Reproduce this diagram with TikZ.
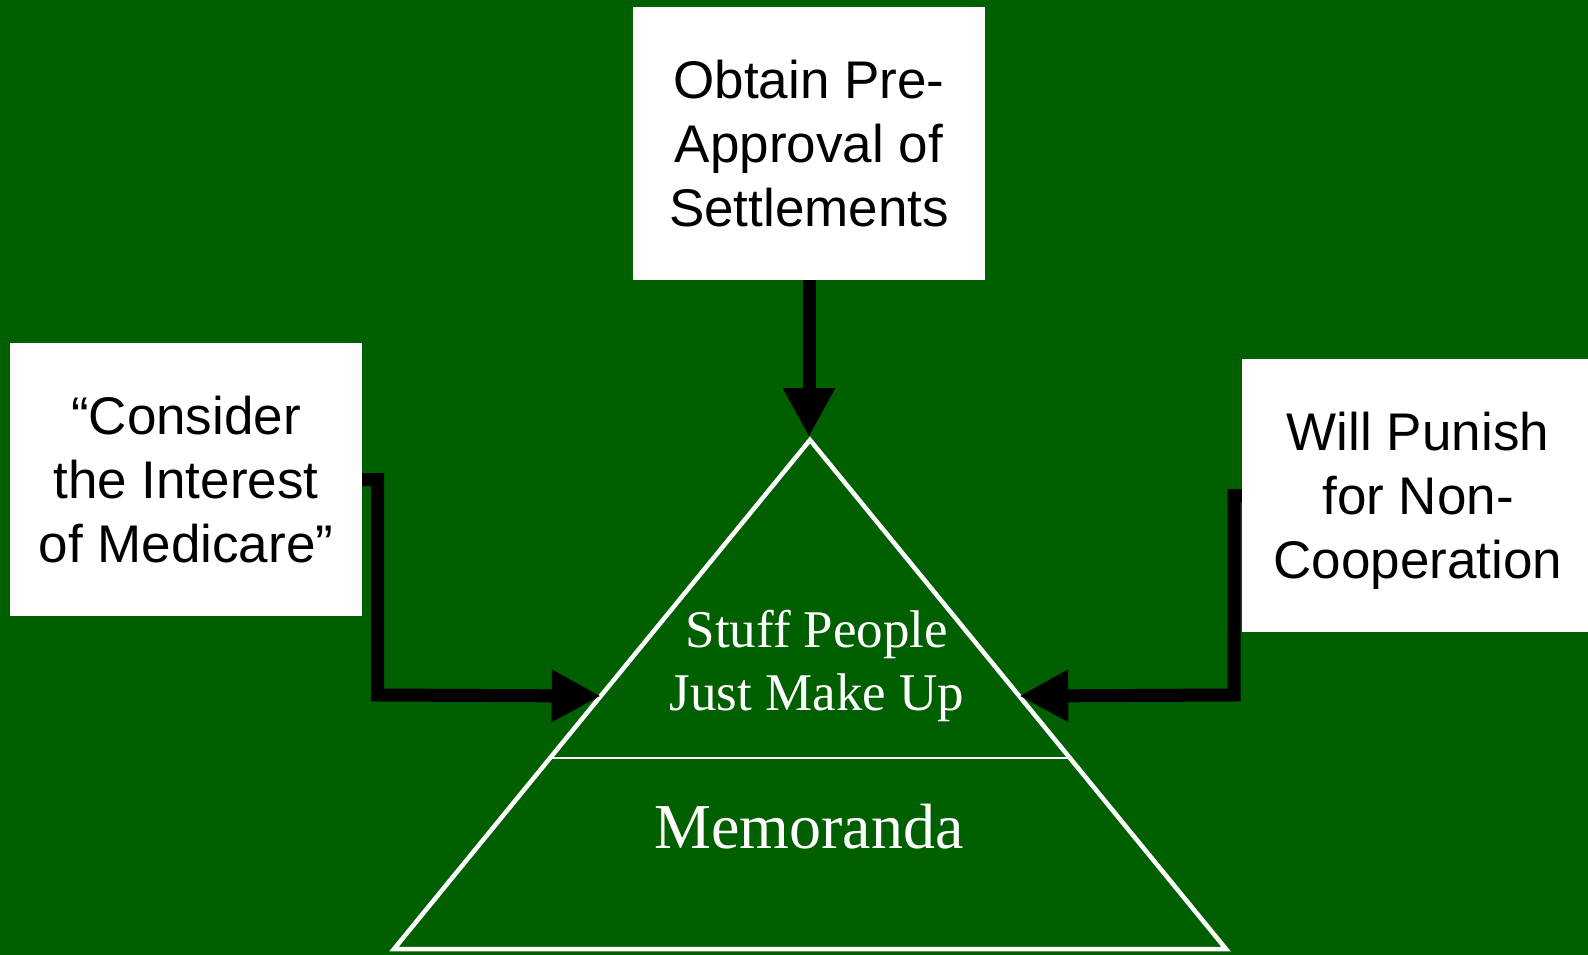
\documentclass[tikz,border=0pt]{standalone}
\usepackage{fontspec}
\setmainfont{Liberation Sans}
\newfontfamily\trifont{Liberation Serif}
\usetikzlibrary{arrows.meta,calc}
\definecolor{bggreen}{RGB}{0,96,0}
\begin{document}
\begin{tikzpicture}[x=1pt,y=-1pt,
  box/.style={fill=white, draw=none, minimum width=352pt, minimum height=273pt,
    inner sep=0pt, align=center, text=black, font=\fontsize{53}{64}\selectfont},
  conn/.style={draw=black, line width=13pt, line join=miter, line cap=butt,
    -{Triangle[length=49pt,width=49pt]}},
  tri/.style={draw=white, line width=4.5pt, line join=miter, fill=bggreen},
  trilabel/.style={text=white, align=center, inner sep=0pt}]
\useasboundingbox (0,0) rectangle (1588,955);
\clip (0,0) rectangle (1588,955);
\fill[bggreen] (0,0) rectangle (1588,955);

% boxes
\node[box] (tb) at (809,143.5) {Obtain Pre-\\Approval of\\Settlements};
\node[box] (lb) at (186,479.5) {``Consider\\the Interest\\of Medicare''};
\node[box] (rb) at (1418,495.5) {Will Punish\\for Non-\\Coo\smash{p}eration};

% triangle
\coordinate (apex) at (810,440);
\coordinate (bl) at (394,949);
\coordinate (br) at (1226,949);
\coordinate (apextip) at (809,437);
\draw[tri] (apex) -- (bl) -- (br) -- cycle;
\coordinate (dl) at ($(apex)!0.625!(bl)$);
\coordinate (dr) at ($(apex)!0.625!(br)$);
\draw[white, line width=2.5pt] (dl) -- (dr);

\node[trilabel, font=\trifont\fontsize{53}{63}\selectfont] (stuff) at (817,666)
  {Stuff People\\Just Make Up};
\node[trilabel, font=\trifont\fontsize{64}{70}\selectfont] (memo) at (809,827)
  {Memoranda};

% connectors
\coordinate (ltip) at ($(apex)!0.503!(bl)$);
\coordinate (rtip) at ($(apex)!0.503!(br)$);
\coordinate (lcorner) at (377.5,695);
\coordinate (rcorner) at (1234,695);
\draw[conn] (tb.south) -- (apextip);
\draw[conn] (lb.east) -| (lcorner) -- (ltip);
\draw[conn] (rb.west) -| (rcorner) -- (rtip);
\end{tikzpicture}
\end{document}
